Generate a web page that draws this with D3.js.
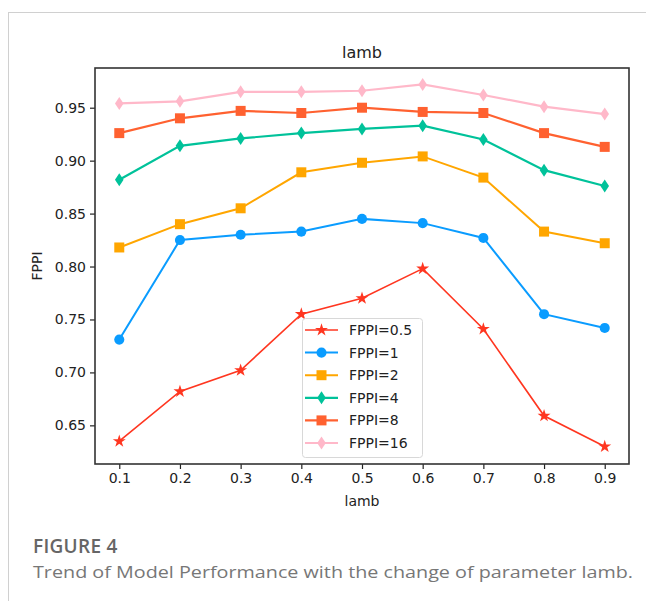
<!DOCTYPE html>
<html>
<head>
<meta charset="utf-8">
<script src="https://cdn.jsdelivr.net/npm/d3@7"></script>
<style>
  body { margin: 0; background: #fff; }
  svg { display: block; }
</style>
</head>
<body>
<script>
// data
const lambs = [0.1, 0.2, 0.3, 0.4, 0.5, 0.6, 0.7, 0.8, 0.9];
const fppi05 = [0.635, 0.682, 0.702, 0.755, 0.770, 0.798, 0.741, 0.659, 0.630];
const fppi1  = [0.731, 0.825, 0.830, 0.833, 0.845, 0.841, 0.827, 0.755, 0.742];
const fppi2  = [0.818, 0.840, 0.855, 0.889, 0.898, 0.904, 0.884, 0.833, 0.822];
const fppi4  = [0.882, 0.914, 0.921, 0.926, 0.930, 0.933, 0.920, 0.891, 0.876];
const fppi8  = [0.926, 0.940, 0.947, 0.945, 0.950, 0.946, 0.945, 0.926, 0.913];
const fppi16 = [0.954, 0.956, 0.965, 0.965, 0.966, 0.972, 0.962, 0.951, 0.944];
const seriesNames = ["FPPI=0.5", "FPPI=1", "FPPI=2", "FPPI=4", "FPPI=8", "FPPI=16"];
const yTicks = [0.65, 0.70, 0.75, 0.80, 0.85, 0.90, 0.95];

const series = [
  { name: seriesNames[0], values: fppi05, color: "#ff3620", marker: "star", width: 1.6 },
  { name: seriesNames[1], values: fppi1,  color: "#0a9cff", marker: "circle", width: 2 },
  { name: seriesNames[2], values: fppi2,  color: "#ffa600", marker: "square", width: 2 },
  { name: seriesNames[3], values: fppi4,  color: "#00c29a", marker: "diamond", width: 2.2 },
  { name: seriesNames[4], values: fppi8,  color: "#ff6130", marker: "square", width: 2.2 },
  { name: seriesNames[5], values: fppi16, color: "#ffb8c9", marker: "diamond", width: 2.2 }
];

const width = 646, height = 601;
const margin = { left: 95, right: 17, top: 68, bottom: 137 };

const svg = d3.select("body").append("svg")
  .attr("width", width)
  .attr("height", height);

// page card edges
svg.append("line").attr("x1", 8).attr("x2", width).attr("y1", 12.5).attr("y2", 12.5)
  .attr("stroke", "#d0d0d0").attr("stroke-width", 1);
svg.append("line").attr("x1", 8.5).attr("x2", 8.5).attr("y1", 12).attr("y2", height)
  .attr("stroke", "#d0d0d0").attr("stroke-width", 1);

const x = d3.scaleLinear().domain([0.06, 0.94]).range([margin.left, width - margin.right]);
const y = d3.scaleLinear().domain([0.6135, 0.9875]).range([height - margin.bottom, margin.top]);

const font = "'DejaVu Sans', sans-serif";

// axes
const xAxis = svg.append("g")
  .attr("transform", `translate(0,${height - margin.bottom})`)
  .call(d3.axisBottom(x).tickValues(lambs).tickFormat(d3.format(".1f")).tickSize(5).tickPadding(4));
const yAxis = svg.append("g")
  .attr("transform", `translate(${margin.left},0)`)
  .call(d3.axisLeft(y).tickValues(yTicks).tickFormat(d3.format(".2f")).tickSize(5).tickPadding(4));

[xAxis, yAxis].forEach(g => {
  g.select(".domain").remove();
  g.selectAll("line").attr("stroke", "#222").attr("stroke-width", 1.2);
  g.selectAll("text").attr("fill", "#222").style("font-family", font).style("font-size", "14px");
});

// frame
svg.append("rect")
  .attr("x", margin.left).attr("y", margin.top)
  .attr("width", width - margin.left - margin.right)
  .attr("height", height - margin.top - margin.bottom)
  .attr("fill", "none").attr("stroke", "#333").attr("stroke-width", 1.6);

function markerPath(type) {
  if (type === "star") return d3.symbol(d3.symbolStar, 52)();
  if (type === "circle") return d3.symbol(d3.symbolCircle, 80)();
  if (type === "square") return d3.symbol(d3.symbolSquare, 100)();
  // thin diamond
  return "M0,-6.5L4.3,0L0,6.5L-4.3,0Z";
}

const line = d3.line().x((d, i) => x(lambs[i])).y(d => y(d));

const plot = svg.append("g");
series.forEach(s => {
  plot.append("path")
    .datum(s.values)
    .attr("d", line)
    .attr("fill", "none")
    .attr("stroke", s.color)
    .attr("stroke-width", s.width);
  plot.selectAll(null)
    .data(s.values)
    .enter().append("path")
    .attr("d", markerPath(s.marker))
    .attr("transform", (d, i) => `translate(${x(lambs[i])},${y(d)})`)
    .attr("fill", s.color);
});

// titles
svg.append("text").attr("x", (margin.left + width - margin.right) / 2).attr("y", 58)
  .attr("text-anchor", "middle").style("font-family", font).style("font-size", "16px")
  .attr("fill", "#222").text("lamb");
svg.append("text").attr("x", (margin.left + width - margin.right) / 2).attr("y", 506)
  .attr("text-anchor", "middle").style("font-family", font).style("font-size", "14px")
  .attr("fill", "#222").text("lamb");
svg.append("text")
  .attr("transform", `translate(42,${(margin.top + height - margin.bottom) / 2}) rotate(-90)`)
  .attr("text-anchor", "middle").style("font-family", font).style("font-size", "14px")
  .attr("fill", "#222").text("FPPI");

// legend
const legend = svg.append("g").attr("transform", "translate(302,318)");
legend.append("rect").attr("x", 0.5).attr("y", 0.5).attr("width", 120).attr("height", 139).attr("rx", 3)
  .attr("fill", "#fff").attr("fill-opacity", 0.85).attr("stroke", "#d8d8d8");
series.forEach((s, i) => {
  const ly = 12 + i * 22.6;
  legend.append("line").attr("x1", 3).attr("x2", 36).attr("y1", ly).attr("y2", ly)
    .attr("stroke", s.color).attr("stroke-width", s.width);
  legend.append("path").attr("d", markerPath(s.marker))
    .attr("transform", `translate(19.5,${ly})`).attr("fill", s.color);
  legend.append("text").attr("x", 47).attr("y", ly).attr("dy", "0.36em")
    .style("font-family", font).style("font-size", "14px").attr("fill", "#222").text(s.name);
});

// caption
const capFont = "'Open Sans', Lato, sans-serif";
svg.append("text").attr("x", 33).attr("y", 553)
  .style("font-family", capFont).style("font-size", "19px")
  .style("font-weight", "600").style("letter-spacing", "0.3px")
  .attr("fill", "#666").text("FIGURE 4");
svg.append("text").attr("x", 33).attr("y", 578)
  .style("font-family", capFont).style("font-size", "17px")
  .attr("textLength", 600).attr("lengthAdjust", "spacingAndGlyphs")
  .attr("fill", "#777").text("Trend of Model Performance with the change of parameter lamb.");
</script>
</body>
</html>
